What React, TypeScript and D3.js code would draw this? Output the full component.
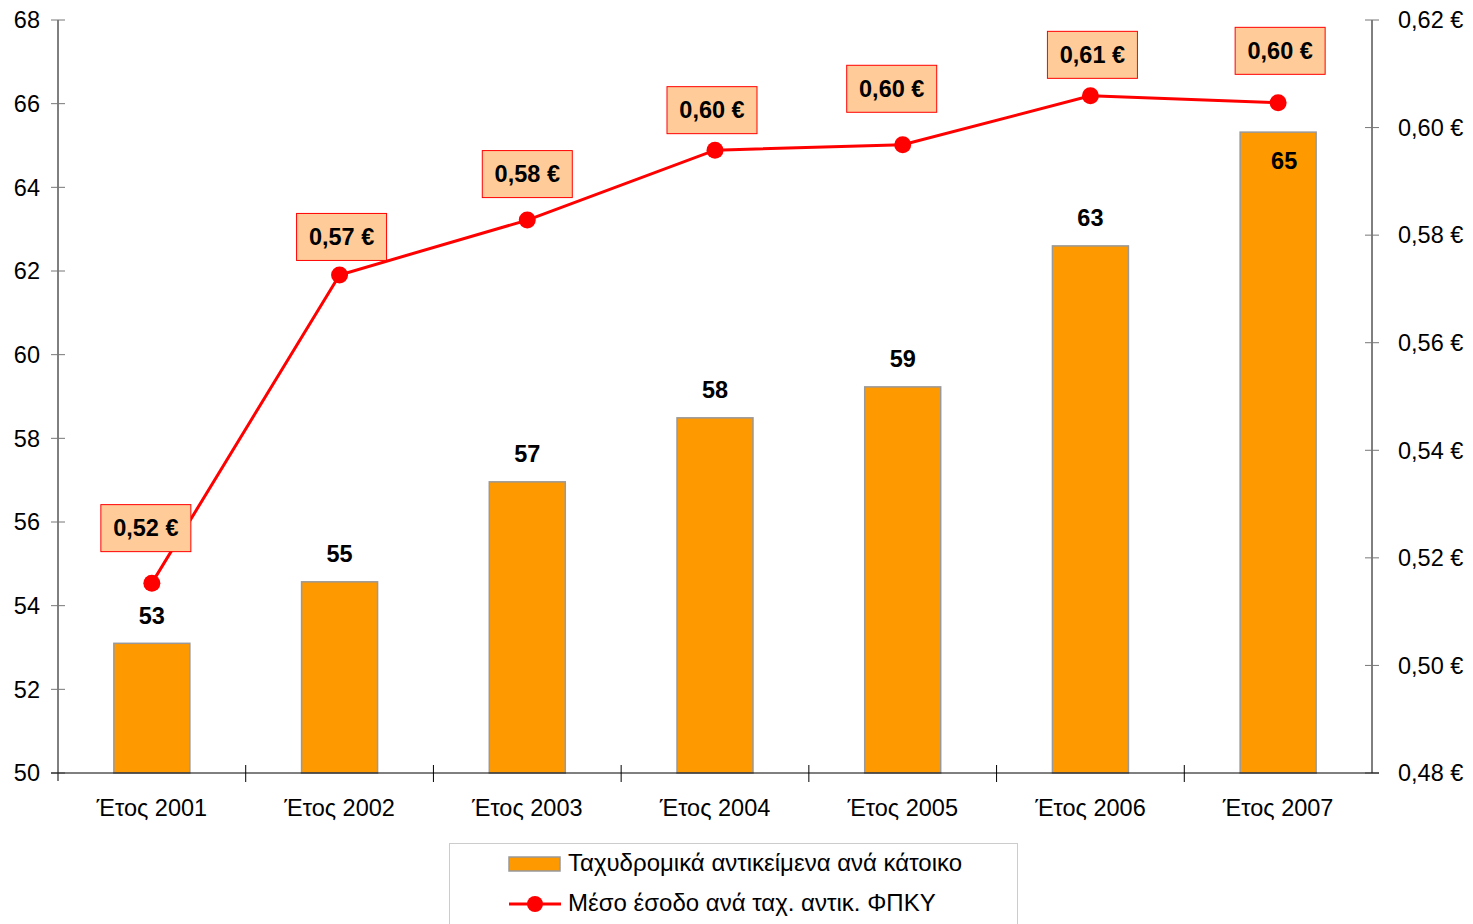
import React from "react";
import * as d3 from "d3";

const categories = ["Έτος 2001", "Έτος 2002", "Έτος 2003", "Έτος 2004", "Έτος 2005", "Έτος 2006", "Έτος 2007"];
const barValues = [53.1, 54.57, 56.96, 58.49, 59.23, 62.6, 65.32];
const barLabels = ["53", "55", "57", "58", "59", "63", "65"];
const lineValues = [0.5153, 0.5726, 0.5828, 0.5958, 0.5968, 0.6059, 0.6046];
const lineLabels = ["0,52 €", "0,57 €", "0,58 €", "0,60 €", "0,60 €", "0,61 €", "0,60 €"];
const leftTicks = [50, 52, 54, 56, 58, 60, 62, 64, 66, 68];
const rightTicks = [0.48, 0.5, 0.52, 0.54, 0.56, 0.58, 0.6, 0.62];
const legendBar = "Ταχυδρομικά αντικείμενα ανά κάτοικο";
const legendLine = "Μέσο έσοδο ανά ταχ. αντικ. ΦΠΚΥ";

// label layout offsets (px) relative to each point
const labelDx = [-6, 2, 0, -3, -11, 2, 2];
const labelDy = [-55, -38, -46, -40, -56, -41, -52];

export default function App() {
  const W = 1473, H = 924;
  const left = 58, right = 1372, top = 20, bottom = 773;
  const x = d3.scaleBand<string>().domain(categories).range([left, right]).paddingInner(0).paddingOuter(0);
  const yL = d3.scaleLinear().domain([50, 68]).range([bottom, top]);
  const yR = d3.scaleLinear().domain([0.48, 0.62]).range([bottom, top]);
  const bw = 76;
  const cx = (c: string) => (x(c) as number) + x.bandwidth() / 2;
  const line = d3.line<number>().x((_, i) => cx(categories[i])).y((v) => yR(v));
  const font = "'Liberation Sans', Arial, sans-serif";
  const fmtR = (v: number) => v.toFixed(2).replace(".", ",") + " €";
  const fs = 23.5;

  return (
    <svg width={W} height={H} style={{ position: "absolute", left: 0, top: 0 }} fontFamily={font}>
      <rect width={W} height={H} fill="#fff" />
      {/* bars */}
      {categories.map((c, i) => (
        <rect key={c} x={cx(c) - bw / 2} y={yL(barValues[i])} width={bw} height={bottom - yL(barValues[i])}
          fill="#FF9900" stroke="#999" strokeWidth={1.5} />
      ))}
      {/* left axis */}
      <line x1={left} x2={left} y1={top} y2={bottom + 8} stroke="#000" strokeWidth={1} />
      {leftTicks.map((t) => (
        <g key={t}>
          <line x1={left - 7} x2={left + 7} y1={yL(t)} y2={yL(t)} stroke="#777" strokeWidth={1} />
          <text x={40} y={yL(t)} dy="0.35em" textAnchor="end" fontSize={fs} fill="#000">{t}</text>
        </g>
      ))}
      {/* right axis */}
      <line x1={right} x2={right} y1={top} y2={bottom} stroke="#000" strokeWidth={1} />
      {rightTicks.map((t) => (
        <g key={t}>
          <line x1={right - 7} x2={right + 7} y1={yR(t)} y2={yR(t)} stroke="#777" strokeWidth={1} />
          <text x={1398} y={yR(t)} dy="0.35em" textAnchor="start" fontSize={fs} fill="#000">{fmtR(t)}</text>
        </g>
      ))}
      {/* x axis */}
      <line x1={left - 7} x2={right + 7} y1={bottom} y2={bottom} stroke="#000" strokeWidth={1} />
      {categories.slice(1).map((c) => (
        <line key={c} x1={x(c)} x2={x(c)} y1={bottom - 8} y2={bottom + 9} stroke="#000" strokeWidth={1} />
      ))}
      {categories.map((c) => (
        <text key={c} x={cx(c)} y={808} dy="0.35em" textAnchor="middle" fontSize={fs} fill="#000">{c}</text>
      ))}
      {/* bar labels */}
      {categories.map((c, i) => {
        const inside = i === categories.length - 1;
        return (
          <text key={c} x={cx(c) + (inside ? 6 : 0)} y={yL(barValues[i]) + (inside ? 29 : -28)} dy="0.35em"
            textAnchor="middle" fontSize={fs} fontWeight="bold" fill="#000">{barLabels[i]}</text>
        );
      })}
      {/* line */}
      <path d={line(lineValues) || ""} fill="none" stroke="#FF0000" strokeWidth={3} />
      {lineValues.map((v, i) => (
        <circle key={i} cx={cx(categories[i])} cy={yR(v)} r={8.5} fill="#FF0000" />
      ))}
      {/* line labels */}
      {lineValues.map((v, i) => {
        const bx = cx(categories[i]) + labelDx[i];
        const by = yR(v) + labelDy[i];
        return (
          <g key={i}>
            <rect x={bx - 45} y={by - 23.5} width={90} height={47} fill="#FFCC99" stroke="#FF0000" strokeWidth={1} />
            <text x={bx} y={by} dy="0.35em" textAnchor="middle" fontSize={fs} fontWeight="bold" fill="#000">{lineLabels[i]}</text>
          </g>
        );
      })}
      {/* legend */}
      <rect x={449.5} y={843.5} width={568} height={100} fill="#fff" stroke="#ccc" strokeWidth={1} />
      <rect x={509} y={857} width={51} height={14} fill="#FF9900" stroke="#999" strokeWidth={1.5} />
      <text x={568} y={863} dy="0.35em" fontSize={24} fill="#000">{legendBar}</text>
      <line x1={509} x2={561} y1={904} y2={904} stroke="#FF0000" strokeWidth={3} />
      <circle cx={535} cy={904} r={8} fill="#FF0000" />
      <text x={568} y={903} dy="0.35em" fontSize={24} fill="#000">{legendLine}</text>
    </svg>
  );
}
